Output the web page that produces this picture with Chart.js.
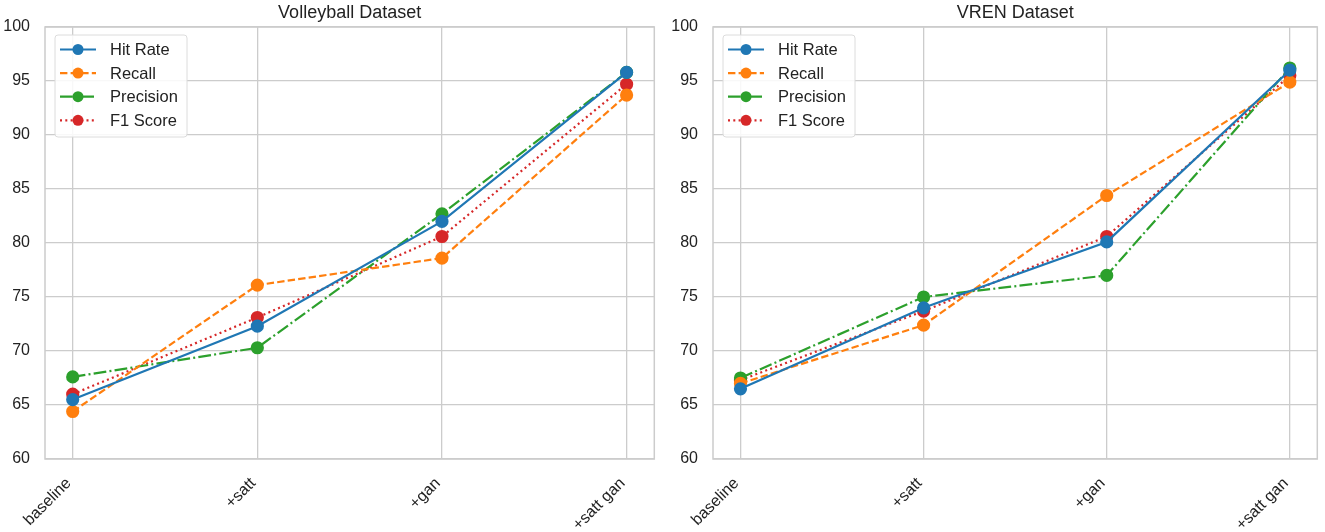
<!DOCTYPE html>
<html>
<head>
<meta charset="utf-8">
<script src="https://cdn.jsdelivr.net/npm/chart.js@4.4.1/dist/chart.umd.min.js"></script>
<style>
html, body { margin: 0; padding: 0; background: #fff; }
#wrap { position: relative; width: 1325px; height: 532px; }
.box { position: absolute; top: 0; height: 532px; }
#left { left: 0; width: 662px; }
#right { left: 662px; width: 663px; }
</style>
</head>
<body>
<div id="wrap">
    <div class="box" id="left"><canvas id="volleyChart"></canvas></div>
    <div class="box" id="right"><canvas id="vrenChart"></canvas></div>
</div>
<script>
const categories = ['baseline', '+satt', '+gan', '+satt gan'];
const seriesNames = ['Hit Rate', 'Recall', 'Precision', 'F1 Score'];

// Volleyball Dataset
const volleyHitRate = [65.5, 72.3, 82.0, 95.8];
const volleyRecall = [64.4, 76.1, 78.6, 93.7];
const volleyPrecision = [67.6, 70.3, 82.7, 95.8];
const volleyF1 = [66.0, 73.1, 80.6, 94.7];

// VREN Dataset
const vrenHitRate = [66.5, 74.0, 80.1, 96.0];
const vrenRecall = [67.0, 72.4, 84.4, 94.9];
const vrenPrecision = [67.5, 75.0, 77.0, 96.2];
const vrenF1 = [67.3, 73.7, 80.6, 95.5];

const yMin = 60, yMax = 100, yStep = 5;

const FONT = '"Liberation Sans", Arial, sans-serif';
const colors = ['#1f77b4', '#ff7f0e', '#2ca02c', '#d62728'];
const dashes = [[], [7.4, 3.2], [12.8, 3.2, 2, 3.2], [2, 3.3]];

// Draws the grey box around the plot area
const frameBox = {
    id: 'frameBox',
    beforeDatasetsDraw(chart) {
        const ctx = chart.ctx, a = chart.chartArea;
        ctx.save();
        ctx.strokeStyle = '#cccccc';
        ctx.lineWidth = 1.5;
        ctx.strokeRect(a.left, a.top, a.right - a.left, a.bottom - a.top);
        ctx.restore();
    }
};

// Legend box inside the top-left corner of the plot
const boxLegend = {
    id: 'boxLegend',
    afterDraw(chart) {
        const ctx = chart.ctx, a = chart.chartArea;
        const x = a.left + 10, y = a.top + 8, w = 132, h = 102;
        ctx.save();
        ctx.fillStyle = 'rgba(255,255,255,0.85)';
        ctx.strokeStyle = '#dcdcdc';
        ctx.lineWidth = 1;
        ctx.beginPath();
        ctx.roundRect(x, y, w, h, 3);
        ctx.fill();
        ctx.stroke();
        chart.data.datasets.forEach((ds, i) => {
            const ly = y + 14.5 + i * 23.6;
            ctx.strokeStyle = ds.borderColor;
            ctx.lineWidth = ds.borderWidth;
            ctx.setLineDash(ds.borderDash);
            ctx.beginPath();
            ctx.moveTo(x + 5, ly);
            ctx.lineTo(x + 41, ly);
            ctx.stroke();
            ctx.setLineDash([]);
            ctx.fillStyle = ds.pointBackgroundColor;
            ctx.beginPath();
            ctx.arc(x + 23, ly, 5.5, 0, Math.PI * 2);
            ctx.fill();
            ctx.fillStyle = '#222';
            ctx.font = '16.5px ' + FONT;
            ctx.textBaseline = 'middle';
            ctx.fillText(ds.label, x + 55, ly + 1);
        });
        ctx.restore();
    }
};

function makeChart(canvasId, title, series, axisWidth, padRight) {
    const ctx = document.getElementById(canvasId).getContext('2d');
    return new Chart(ctx, {
        type: 'line',
        data: {
            datasets: series.map((values, i) => ({
                label: seriesNames[i],
                data: values.map((v, k) => ({ x: k, y: v })),
                borderColor: colors[i],
                backgroundColor: colors[i],
                pointBackgroundColor: colors[i],
                pointBorderColor: colors[i],
                borderWidth: 2.2,
                borderDash: dashes[i],
                pointRadius: 5.5,
                pointHoverRadius: 5.5,
                tension: 0,
                fill: false,
                clip: false
            }))
        },
        options: {
            responsive: true,
            maintainAspectRatio: false,
            animation: false,
            layout: { padding: { left: 0, right: padRight, top: 0, bottom: 0 } },
            plugins: {
                legend: { display: false },
                tooltip: { enabled: false },
                title: {
                    display: true,
                    text: title,
                    fullSize: false,
                    color: '#222',
                    font: { family: FONT, size: 18, weight: 'normal', lineHeight: 1.2 },
                    padding: { top: 2, bottom: 3.4 }
                }
            },
            scales: {
                x: {
                    type: 'linear',
                    min: -0.15,
                    max: categories.length - 1 + 0.15,
                    afterBuildTicks: scale => { scale.ticks = categories.map((c, i) => ({ value: i })); },
                    afterFit: scale => { scale.height = 73; },
                    grid: { color: '#cccccc', lineWidth: 1.3, drawTicks: false },
                    border: { display: false },
                    ticks: {
                        autoSkip: false,
                        minRotation: 45,
                        maxRotation: 45,
                        padding: 15,
                        labelOffset: -4,
                        color: '#222',
                        font: { family: FONT, size: 16 },
                        callback: v => categories[v]
                    }
                },
                y: {
                    min: yMin,
                    max: yMax,
                    afterFit: scale => { scale.width = axisWidth; },
                    grid: { color: '#cccccc', lineWidth: 1.3, drawTicks: false },
                    border: { display: false },
                    ticks: {
                        stepSize: yStep,
                        padding: 15,
                        color: '#222',
                        font: { family: FONT, size: 16 }
                    }
                }
            }
        },
        plugins: [frameBox, boxLegend]
    });
}

makeChart('volleyChart', 'Volleyball Dataset',
    [volleyHitRate, volleyRecall, volleyPrecision, volleyF1], 45, 7);
makeChart('vrenChart', 'VREN Dataset',
    [vrenHitRate, vrenRecall, vrenPrecision, vrenF1], 51, 2);
</script>
</body>
</html>
